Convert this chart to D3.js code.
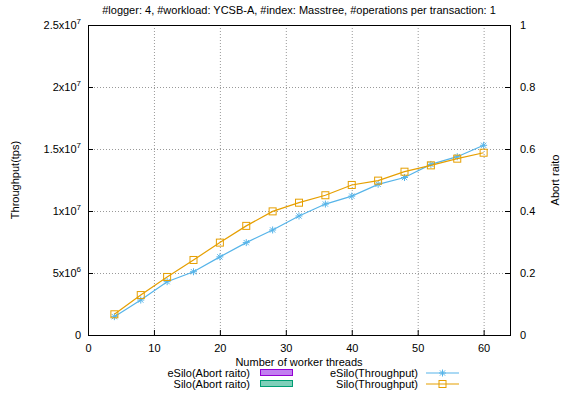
<!DOCTYPE html>
<html>
<head>
<meta charset="utf-8">
<script src="https://cdn.jsdelivr.net/npm/d3@7"></script>
<style>
  body { margin: 0; background: #fff; }
  text { font-family: "Liberation Sans", Arial, sans-serif; font-size: 11px; fill: #000; }
</style>
</head>
<body>
<div id="chart"></div>
<script>
// worker threads
const threads = [4, 8, 12, 16, 20, 24, 28, 32, 36, 40, 44, 48, 52, 56, 60];
// throughput (tps)
const esiloTput = [1.48e6, 2.82e6, 4.3e6, 5.1e6, 6.3e6, 7.45e6, 8.47e6, 9.6e6, 10.56e6, 11.2e6, 12.15e6, 12.7e6, 13.76e6, 14.38e6, 15.3e6];
const siloTput = [1.67e6, 3.22e6, 4.68e6, 6.05e6, 7.45e6, 8.8e6, 9.97e6, 10.67e6, 11.27e6, 12.1e6, 12.45e6, 13.17e6, 13.68e6, 14.22e6, 14.7e6];
// abort ratio
const esiloAbort = [0, 0, 0, 0, 0, 0, 0, 0, 0, 0, 0, 0, 0, 0, 0];
const siloAbort = [0, 0, 0, 0, 0, 0, 0, 0, 0, 0, 0, 0, 0, 0, 0];

const xTicks = [0, 10, 20, 30, 40, 50, 60];
const yTicks = [0, 5e6, 1e7, 1.5e7, 2e7, 2.5e7];
const yLabels = [['0', ''], ['5x10', '6'], ['1x10', '7'], ['1.5x10', '7'], ['2x10', '7'], ['2.5x10', '7']];
const y2Ticks = [0, 0.2, 0.4, 0.6, 0.8, 1];

const width = 561, height = 395;
const mLeft = 88, mRight = 510, mTop = 25, mBottom = 335;

const svg = d3.select('#chart').append('svg')
  .attr('width', width)
  .attr('height', height);

const x = d3.scaleLinear().domain([0, 64]).range([mLeft, mRight]);
const y = d3.scaleLinear().domain([0, 2.5e7]).range([mBottom, mTop]);
const y2 = d3.scaleLinear().domain([0, 1]).range([mBottom, mTop]);

// grid
const grid = svg.append('g').attr('stroke', '#999').attr('stroke-dasharray', '1,2').attr('stroke-width', 1);
grid.selectAll('.gx').data(xTicks.slice(1)).enter().append('line')
  .attr('x1', d => x(d) + 0.5).attr('x2', d => x(d) + 0.5)
  .attr('y1', mTop).attr('y2', mBottom);
grid.selectAll('.gy').data(yTicks.slice(1, -1)).enter().append('line')
  .attr('x1', mLeft).attr('x2', mRight)
  .attr('y1', d => y(d) + 0.5).attr('y2', d => y(d) + 0.5);

// abort ratio bars (clustered)
const bw = 2.4;
svg.selectAll('.b1').data(threads).enter().append('rect')
  .attr('x', d => x(d) - bw * 1.5)
  .attr('y', (d, i) => y2(esiloAbort[i]))
  .attr('width', bw * 1.2)
  .attr('height', (d, i) => mBottom - y2(esiloAbort[i]))
  .attr('fill', '#c27ff0').attr('stroke', '#9400d3');
svg.selectAll('.b2').data(threads).enter().append('rect')
  .attr('x', d => x(d) + bw * 0.3)
  .attr('y', (d, i) => y2(siloAbort[i]))
  .attr('width', bw * 1.2)
  .attr('height', (d, i) => mBottom - y2(siloAbort[i]))
  .attr('fill', '#7fcfb9').attr('stroke', '#009e73');

// axes frame
svg.append('rect')
  .attr('x', mLeft + 0.5).attr('y', mTop + 0.5)
  .attr('width', mRight - mLeft).attr('height', mBottom - mTop)
  .attr('fill', 'none').attr('stroke', '#000').attr('stroke-width', 1);

const ticks = svg.append('g').attr('stroke', '#000');
ticks.selectAll('.tx').data(xTicks).enter().append('line')
  .attr('x1', d => x(d) + 0.5).attr('x2', d => x(d) + 0.5)
  .attr('y1', mBottom).attr('y2', mBottom - 5);
ticks.selectAll('.ty').data(yTicks).enter().append('line')
  .attr('x1', mLeft).attr('x2', mLeft + 5)
  .attr('y1', d => y(d) + 0.5).attr('y2', d => y(d) + 0.5);
ticks.selectAll('.ty2').data(y2Ticks).enter().append('line')
  .attr('x1', mRight).attr('x2', mRight - 5)
  .attr('y1', d => y2(d) + 0.5).attr('y2', d => y2(d) + 0.5);

// tick labels
svg.selectAll('.lx').data(xTicks).enter().append('text')
  .attr('x', d => x(d) + 0.5).attr('y', mBottom + 17)
  .attr('text-anchor', 'middle').text(d => d);

const yl = svg.selectAll('.ly').data(yTicks).enter().append('text')
  .attr('x', mLeft - 7).attr('y', d => y(d) + 4)
  .attr('text-anchor', 'end');
yl.append('tspan').text((d, i) => yLabels[i][0]);
yl.append('tspan').attr('dy', -5).attr('font-size', 8).text((d, i) => yLabels[i][1]);

svg.selectAll('.ly2').data(y2Ticks).enter().append('text')
  .attr('x', mRight + 10).attr('y', d => y2(d) + 4)
  .text(d => d);

// titles
svg.append('text').attr('x', 299).attr('y', 14).attr('text-anchor', 'middle')
  .text('#logger: 4, #workload: YCSB-A, #index: Masstree, #operations per transaction: 1');
svg.append('text').attr('transform', 'translate(19,180) rotate(-90)').attr('text-anchor', 'middle')
  .text('Throughput(tps)');
svg.append('text').attr('transform', 'translate(559,180) rotate(-90)').attr('text-anchor', 'middle')
  .text('Abort raito');
svg.append('text').attr('x', 299).attr('y', 366).attr('text-anchor', 'middle')
  .text('Number of worker threads');

// lines
const series = [
  { name: 'eSilo(Throughput)', vals: esiloTput, color: '#56b4e9', marker: 'star' },
  { name: 'Silo(Throughput)', vals: siloTput, color: '#e69f00', marker: 'square' }
];
const line = d3.line().x(d => x(d[0])).y(d => y(d[1]));

function drawMarker(g, cx, cy, type, color) {
  if (type === 'square') {
    g.append('rect').attr('x', cx - 3.5).attr('y', cy - 3.5).attr('width', 7).attr('height', 7)
      .attr('fill', 'none').attr('stroke', color).attr('stroke-width', 1);
  } else {
    const s = 3.5;
    g.append('path')
      .attr('d', `M${cx - s},${cy}H${cx + s}M${cx},${cy - s}V${cy + s}M${cx - s * 0.75},${cy - s * 0.75}L${cx + s * 0.75},${cy + s * 0.75}M${cx - s * 0.75},${cy + s * 0.75}L${cx + s * 0.75},${cy - s * 0.75}`)
      .attr('stroke', color).attr('stroke-width', 1).attr('fill', 'none');
  }
}

series.forEach(s => {
  const pts = threads.map((t, i) => [t, s.vals[i]]);
  svg.append('path').attr('d', line(pts))
    .attr('fill', 'none').attr('stroke', s.color).attr('stroke-width', 1.2);
  const g = svg.append('g');
  pts.forEach(p => drawMarker(g, x(p[0]), y(p[1]), s.marker, s.color));
});

// legend
const legBars = [
  { name: 'eSilo(Abort raito)', fill: '#c27ff0', stroke: '#9400d3' },
  { name: 'Silo(Abort raito)', fill: '#7fcfb9', stroke: '#009e73' }
];
legBars.forEach((b, i) => {
  const ly = 373 + i * 11;
  svg.append('text').attr('x', 250).attr('y', ly + 4).attr('text-anchor', 'end').text(b.name);
  svg.append('rect').attr('x', 260.5).attr('y', ly - 3.5).attr('width', 32).attr('height', 6)
    .attr('fill', b.fill).attr('stroke', b.stroke);
});
series.forEach((s, i) => {
  const ly = 373 + i * 11;
  svg.append('text').attr('x', 418).attr('y', ly + 4).attr('text-anchor', 'end').text(s.name);
  svg.append('line').attr('x1', 426).attr('x2', 459).attr('y1', ly).attr('y2', ly)
    .attr('stroke', s.color).attr('stroke-width', 1.2);
  drawMarker(svg.append('g'), 442.5, ly, s.marker, s.color);
});
</script>
</body>
</html>
